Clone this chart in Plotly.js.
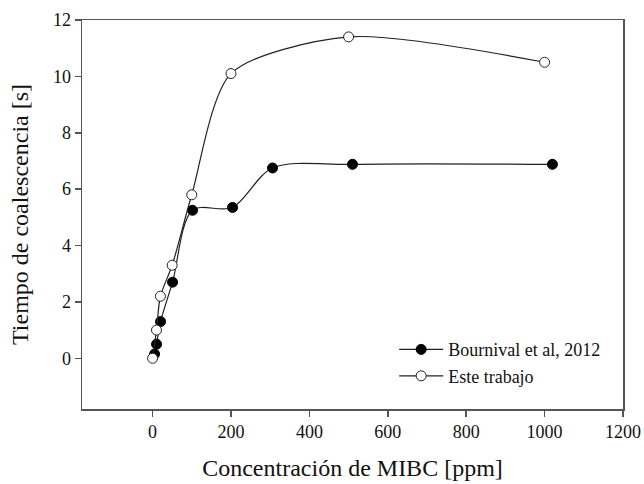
<!DOCTYPE html>
<html>
<head>
<meta charset="utf-8">
<script src="https://cdn.plot.ly/plotly-3.0.1.min.js"></script>
<style>html,body{margin:0;padding:0;background:#fff;}#chart{width:644px;height:484px;}</style>
</head>
<body>
<div id="chart"></div>
<script>
const bournivalX = [5.1, 10.2, 20.4, 51, 102, 204, 306, 510, 1020];
const bournivalY = [0.15, 0.5, 1.3, 2.7, 5.25, 5.35, 6.75, 6.88, 6.88];
const esteX = [0, 10, 20, 50, 100, 200, 500, 1000];
const esteY = [0, 1.0, 2.2, 3.3, 5.8, 10.1, 11.4, 10.5];
const xTicks = [0, 200, 400, 600, 800, 1000, 1200];
const yTicks = [0, 2, 4, 6, 8, 10, 12];

const font = 'Liberation Serif';
const traces = [
  {x: bournivalX, y: bournivalY, name: 'Bournival et al, 2012', mode: 'lines+markers',
   line: {color: '#222', width: 1.2, shape: 'spline', smoothing: 0.9},
   marker: {symbol: 'circle', size: 10, color: '#000', line: {color: '#000', width: 1}}},
  {x: esteX, y: esteY, name: 'Este trabajo', mode: 'lines+markers',
   line: {color: '#222', width: 1.2, shape: 'spline', smoothing: 0.75},
   marker: {symbol: 'circle', size: 10, color: '#fff', line: {color: '#222', width: 1}}}
];
function axis(extra) {
  return Object.assign({showgrid: false, zeroline: false, showline: true, mirror: true,
    linecolor: '#555', linewidth: 1.5, ticks: 'outside', ticklen: 6, tickcolor: '#555', tickwidth: 1.5,
    tickfont: {family: font, size: 18, color: '#111'}}, extra);
}
const layout = {
  width: 644, height: 484,
  font: {family: font, size: 18, color: '#111'},
  margin: {l: 82, r: 21, t: 20, b: 75},
  paper_bgcolor: '#fff', plot_bgcolor: '#fff',
  showlegend: true,
  legend: {x: 0.577, y: 0.2, xanchor: 'left', yanchor: 'top', bgcolor: 'rgba(0,0,0,0)',
    font: {family: font, size: 18, color: '#111'}, tracegroupgap: 0, itemwidth: 44},
  xaxis: axis({range: [-180, 1200], tickvals: xTicks,
    title: {text: 'Concentración de MIBC [ppm]', font: {family: font, size: 24, color: '#111'}, standoff: 18}}),
  yaxis: axis({range: [-1.8, 12], tickvals: yTicks,
    title: {text: 'Tiempo de coalescencia [s]', font: {family: font, size: 24, color: '#111'}, standoff: 17}})
};
Plotly.newPlot('chart', traces, layout, {displayModeBar: false, staticPlot: true});
</script>
</body>
</html>
